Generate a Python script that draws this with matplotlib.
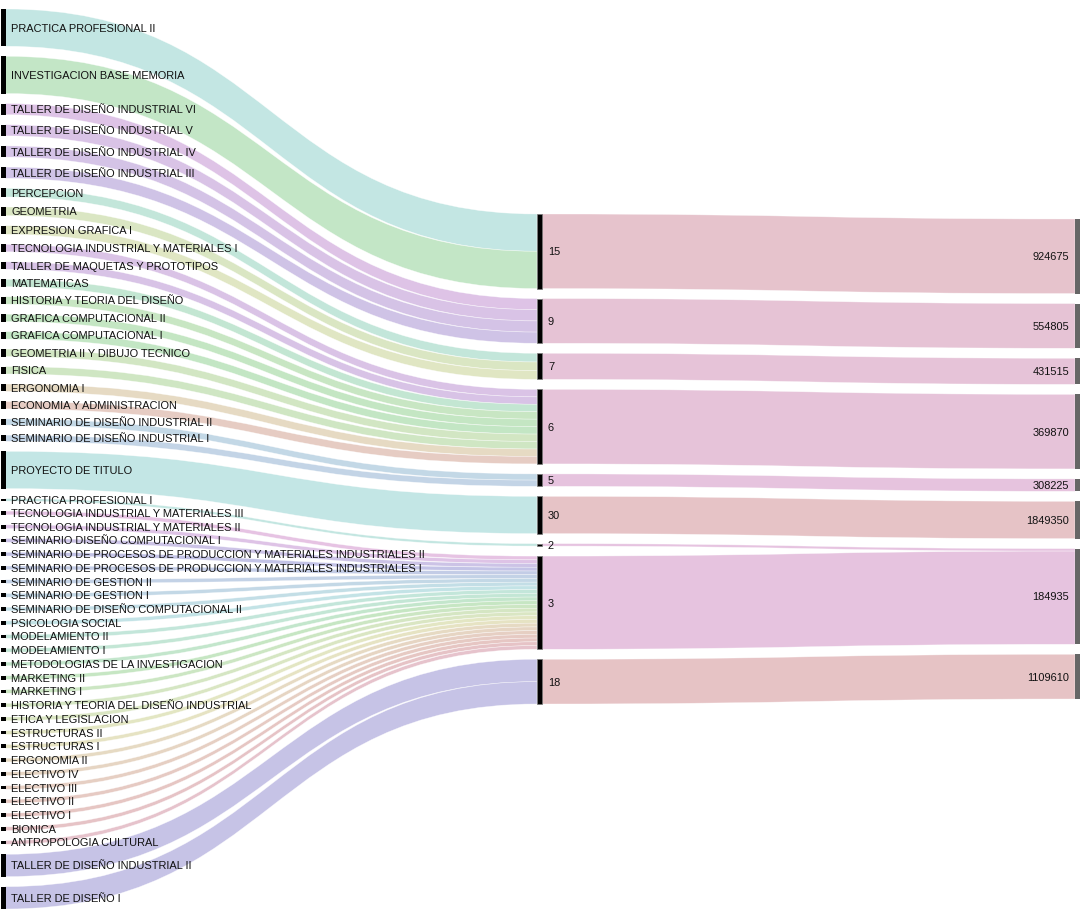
import colorsys
import numpy as np
import matplotlib
matplotlib.use("Agg")
import matplotlib.pyplot as plt
from matplotlib.path import Path
from matplotlib.patches import PathPatch, Rectangle

plt.rcParams['font.family'] = ['Liberation Sans', 'DejaVu Sans']

# asignaturas (columna izquierda), de arriba a abajo
asignaturas = [
    "PRACTICA PROFESIONAL II", "INVESTIGACION BASE MEMORIA",
    "TALLER DE DISEÑO INDUSTRIAL VI", "TALLER DE DISEÑO INDUSTRIAL V",
    "TALLER DE DISEÑO INDUSTRIAL IV", "TALLER DE DISEÑO INDUSTRIAL III",
    "PERCEPCION", "GEOMETRIA", "EXPRESION GRAFICA I",
    "TECNOLOGIA INDUSTRIAL Y MATERIALES I", "TALLER DE MAQUETAS Y PROTOTIPOS",
    "MATEMATICAS", "HISTORIA Y TEORIA DEL DISEÑO", "GRAFICA COMPUTACIONAL II",
    "GRAFICA COMPUTACIONAL I", "GEOMETRIA II Y DIBUJO TECNICO", "FISICA",
    "ERGONOMIA I", "ECONOMIA Y ADMINISTRACION",
    "SEMINARIO DE DISEÑO INDUSTRIAL II", "SEMINARIO DE DISEÑO INDUSTRIAL I",
    "PROYECTO DE TITULO", "PRACTICA PROFESIONAL I",
    "TECNOLOGIA INDUSTRIAL Y MATERIALES III", "TECNOLOGIA INDUSTRIAL Y MATERIALES II",
    "SEMINARIO DISEÑO COMPUTACIONAL I",
    "SEMINARIO DE PROCESOS DE PRODUCCION Y MATERIALES INDUSTRIALES II",
    "SEMINARIO DE PROCESOS DE PRODUCCION Y MATERIALES INDUSTRIALES I",
    "SEMINARIO DE GESTION II", "SEMINARIO DE GESTION I",
    "SEMINARIO DE DISEÑO COMPUTACIONAL II", "PSICOLOGIA SOCIAL",
    "MODELAMIENTO II", "MODELAMIENTO I", "METODOLOGIAS DE LA INVESTIGACION",
    "MARKETING II", "MARKETING I", "HISTORIA Y TEORIA DEL DISEÑO INDUSTRIAL",
    "ETICA Y LEGISLACION", "ESTRUCTURAS II", "ESTRUCTURAS I", "ERGONOMIA II",
    "ELECTIVO IV", "ELECTIVO III", "ELECTIVO II", "ELECTIVO I", "BIONICA",
    "ANTROPOLOGIA CULTURAL", "TALLER DE DISEÑO INDUSTRIAL II", "TALLER DE DISEÑO I",
]

# creditos de cada asignatura (nodo del centro al que llega)
creditos = [15, 15, 9, 9, 9, 9, 7, 7, 7, 6, 6, 6, 6, 6, 6, 6, 6, 6, 6, 5, 5,
            30, 2] + [3] * 25 + [18, 18]

# grosor de cada enlace asignatura -> creditos
valores = [30, 30, 9, 9, 9, 9, 7, 7, 7, 6, 6, 6, 6, 6, 6, 6, 6, 6, 6, 5, 5,
           30, 2] + [3] * 25 + [18, 18]

# nodos del centro y su monto (columna derecha)
nodos_creditos = [15, 9, 7, 6, 5, 30, 2, 3, 18]
destino_monto = [924675, 554805, 431515, 369870, 308225, 1849350, 184935, 184935, 1109610]
montos = [924675, 554805, 431515, 369870, 308225, 1849350, 184935, 1109610]

# tonos de color de los enlaces
tonos_izq = [175, 125, 285, 278, 270, 260, 160, 80, 70, 280, 275, 145, 112, 118,
             122, 95, 100, 40, 15, 205, 210, 178, 172, 305, 285, 255, 240, 225,
             215, 205, 195, 185, 160, 150, 135, 115, 105, 90, 80, 65, 55, 40,
             30, 20, 12, 5, 355, 345, 245, 245]
tonos_centro = [345, 330, 325, 322, 315, 355, 310, 312, 357]


def color_enlace(h, alpha=0.55):
    r, g, b = colorsys.hls_to_rgb(h / 360.0, 0.835, 0.42)
    base = [1 - (1 - c) / alpha for c in (r, g, b)]
    return (*base, alpha)


W, H = 1080, 920
pad = 10
nw = 5
x_izq, x_cen, x_der = 0.5, 537, 1075

val_cen = [sum(v for v, c in zip(valores, creditos) if c == n) for n in nodos_creditos]
val_der = [sum(v for v, m in zip(val_cen, destino_monto) if m == n) for n in montos]

cols = [valores, val_cen, val_der]
k = min((900 - pad * (len(c) - 1)) / sum(c) for c in cols)


def posiciones(vals):
    total = sum(vals) * k + pad * (len(vals) - 1)
    y = H / 2 - total / 2
    ys = []
    for v in vals:
        ys.append(y)
        y += v * k + pad
    return ys


y_izq = posiciones(valores)
y_cen = posiciones(val_cen)
y_der = posiciones(val_der)

fig = plt.figure(figsize=(10.8, 9.2), dpi=100)
ax = fig.add_axes([0, 0, 1, 1])
ax.set_xlim(0, W)
ax.set_ylim(H, 0)
ax.axis('off')


def enlace(xa, ya, xb, yb, h, color):
    xm = (xa + xb) / 2
    verts = [(xa, ya), (xm, ya), (xm, yb), (xb, yb),
             (xb, yb + h), (xm, yb + h), (xm, ya + h), (xa, ya + h), (xa, ya)]
    codes = [Path.MOVETO, Path.CURVE4, Path.CURVE4, Path.CURVE4,
             Path.LINETO, Path.CURVE4, Path.CURVE4, Path.CURVE4, Path.CLOSEPOLY]
    ax.add_patch(PathPatch(Path(verts, codes), facecolor=color,
                           edgecolor=(1, 1, 1, 0.6), lw=0.4, zorder=1))


# enlaces asignatura -> creditos
offset_cen = [0.0] * len(nodos_creditos)
for i, (v, c) in enumerate(zip(valores, creditos)):
    j = nodos_creditos.index(c)
    h = v * k
    enlace(x_izq + nw, y_izq[i], x_cen, y_cen[j] + offset_cen[j], h,
           color_enlace(tonos_izq[i]))
    offset_cen[j] += h

# enlaces creditos -> monto
offset_der = [0.0] * len(montos)
for j, (v, m) in enumerate(zip(val_cen, destino_monto)):
    r = montos.index(m)
    h = v * k
    enlace(x_cen + nw, y_cen[j], x_der, y_der[r] + offset_der[r], h,
           color_enlace(tonos_centro[j]))
    offset_der[r] += h

# nodos y etiquetas
fs = 7.9
for i, name in enumerate(asignaturas):
    h = valores[i] * k
    ax.add_patch(Rectangle((x_izq, y_izq[i]), nw, h, facecolor='black',
                           edgecolor='none', zorder=3))
    ax.text(x_izq + nw + 5.5, y_izq[i] + h / 2, name, fontsize=fs,
            va='center', ha='left', color='#111111', zorder=4)

for j, n in enumerate(nodos_creditos):
    h = val_cen[j] * k
    ax.add_patch(Rectangle((x_cen, y_cen[j]), nw, h, facecolor='black',
                           edgecolor='#777777', lw=0.5, zorder=3))
    ax.text(x_cen + nw + 6, y_cen[j] + h / 2, str(n), fontsize=fs,
            va='center', ha='left', color='#111111', zorder=4)

for r, m in enumerate(montos):
    h = val_der[r] * k
    ax.add_patch(Rectangle((x_der, y_der[r]), nw, h, facecolor='#666666',
                           edgecolor='none', zorder=3))
    ax.text(x_der - 6, y_der[r] + h / 2, str(m), fontsize=fs,
            va='center', ha='right', color='#111111', zorder=4)

fig.savefig('out.png', dpi=100, facecolor='white')
